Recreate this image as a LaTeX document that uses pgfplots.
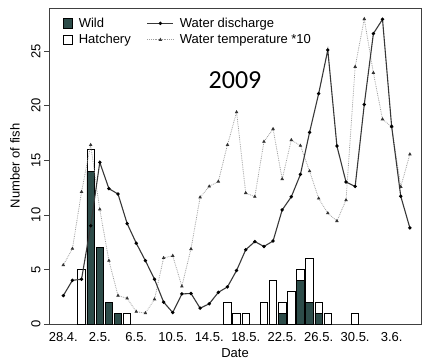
\documentclass[border=0pt]{standalone}
\usepackage{pgfplots}
\pgfplotsset{compat=1.18}
\usepackage{pgfplotstable}
\usepackage{fontspec}
\setmainfont{Liberation Sans}
\newfontfamily\calfont{Carlito}
\definecolor{wildc}{RGB}{45,76,73}

% day index: 0 = 28.4.
\pgfplotstableread{
day q t
0 2.6 5.4
1 4.0 6.9
2 4.1 12.1
3 9.0 16.4
4 14.8 10.5
5 12.4 5.8
6 11.9 2.6
7 9.2 2.35
8 7.4 1.13
9 5.8 1.0
10 4.1 2.26
11 2.0 6.05
12 1.05 6.25
13 2.75 3.45
14 2.8 6.87
15 1.45 11.6
16 1.85 12.6
17 2.9 13.05
18 3.4 16.4
19 4.9 19.4
20 6.8 12.0
21 7.55 11.66
22 7.1 16.7
23 7.6 17.86
24 10.45 13.28
25 11.65 16.85
26 13.7 16.33
27 17.55 14.0
28 21.1 11.5
29 25.1 10.15
30 16.3 9.43
31 13.0 11.35
32 12.6 23.56
33 20.1 27.93
34 26.6 23.0
35 27.9 18.75
36 18.1 18.07
37 11.7 12.57
38 8.8 15.54
}\envtable

\pgfplotstableread{
day wild hatch
2 0 5
3 14 2
4 7 0
5 2 0
6 1 0
7 0 1
18 0 2
19 0 1
20 0 1
22 0 2
23 0 4
24 1 1
25 0 3
26 4 1
27 2 4
28 1 1
29 0 1
32 0 1
}\fishtable

\pgfplotsset{
 dis/.style={black!78, line width=1.1pt, mark=*, mark size=1.1pt, mark options={solid, fill=black, draw=black}},
 tmp/.style={black!38, line width=0.8pt, densely dotted, mark=triangle*, mark size=1.3pt, mark options={solid, fill=black!80, draw=black!80}},
 barsq/.style={legend image code/.code={\draw[##1, line width=0.7pt] (0pt,-4.7pt) rectangle (9.5pt,4.7pt);}},
 linesq/.style={legend image code/.code={\draw[mark repeat=2, mark phase=2, ##1] plot coordinates {(0pt,0pt) (13pt,0pt) (26pt,0pt)};}},
}

\begin{document}
\begin{tikzpicture}
\useasboundingbox (0,0) rectangle (423pt,360pt);
\begin{axis}[
  at={(49pt,36pt)}, anchor=south west,
  scale only axis, width=372pt, height=316pt,
  xmin=-1.568, xmax=39.22, ymin=0, ymax=28.94,
  axis line style={black!75, line width=0.8pt},
  xtick={0,4,...,36},
  xticklabels={28.4.,2.5.,6.5.,10.5.,14.5.,18.5.,22.5.,26.5.,30.5.,3.6.},
  xtick pos=bottom, ytick pos=left,
  x tick style={draw=none},
  ytick={0,5,...,25},
  tick align=outside, major tick length=5pt,
  y tick style={black!75, line width=0.6pt},
  yticklabel style={rotate=90, anchor=south},
  /pgf/number format/assume math mode=true,
  tick label style={font=\fontsize{13}{15}\selectfont},
  label style={font=\fontsize{13}{15}\selectfont},
  xlabel={Date}, ylabel={Number of fish},
  xlabel style={at={(axis description cs:0.5,-0.092)}, anchor=center},
  ylabel style={at={(axis description cs:-0.0915,0.5)}, anchor=center},
  legend columns=2,
  legend cell align=left,
  legend style={draw=none, fill=none, at={(axis description cs:0.028,0.982)}, anchor=north west,
    font=\fontsize{13}{15}\selectfont, row sep=1.5pt,
    /tikz/every odd column/.append style={column sep=4pt},
    /tikz/every even column/.append style={column sep=14pt}},
]
\addlegendimage{barsq, fill=wildc, draw=black}
\addlegendentry{Wild}
\addlegendimage{linesq, dis}
\addlegendentry{Water discharge}
\addlegendimage{barsq, fill=white, draw=black}
\addlegendentry{Hatchery}
\addlegendimage{linesq, tmp}
\addlegendentry{Water temperature *10}

\addplot[forget plot, ybar, bar width=0.82, bar shift=0pt, fill=white, draw=black, line width=0.8pt]
  table[x=day, y expr=\thisrow{wild}+\thisrow{hatch}] {\fishtable};
\addplot[forget plot, ybar, bar width=0.82, bar shift=0pt, fill=wildc, draw=black, line width=0.8pt, restrict y to domain=0.5:30]
  table[x=day, y=wild] {\fishtable};

\addplot[forget plot, tmp] table[x=day, y=t] {\envtable};
\addplot[forget plot, dis] table[x=day, y=q] {\envtable};

\node[font=\calfont\fontsize{26}{30}\selectfont] at (axis cs:18.83,22.34) {2009};
\end{axis}
\end{tikzpicture}
\end{document}
